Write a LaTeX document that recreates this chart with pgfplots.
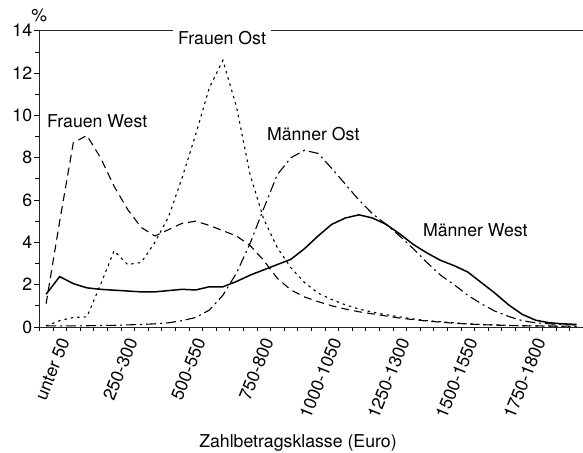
\documentclass[border=0pt]{standalone}
\usepackage{fontspec}
\setmainfont{TeX Gyre Heros}
\usepackage{pgfplots}
\pgfplotsset{compat=1.18}

\begin{document}
\fontsize{17.7bp}{21bp}\selectfont
\begin{tikzpicture}
\begin{axis}[
  scale only axis, width=544bp, height=296.3bp,
  xmin=-0.5, xmax=39.5, ymin=0, ymax=14,
  axis x line*=box, axis y line*=left,
  axis line style={line width=0.9bp, black!85},
  tick pos=left, tick align=outside,
  xtick={0,5,...,35},
  xticklabels={unter 50,250-300,500-550,750-800,1000-1050,1250-1300,1500-1550,1750-1800},
  major x tick style={draw=none},
  minor xtick={-0.5,0.5,...,39.5},
  ytick={0,2,...,14},
  minor ytick={1,3,...,13},
  major tick length=5bp, minor tick length=4bp,
  tick style={line width=0.7bp, black},
  xticklabel style={rotate=68, anchor=north east, inner sep=0pt, xshift=0.5bp, yshift=-13bp},
  yticklabel style={inner sep=2bp},
  /pgf/number format/assume math mode=true,
  clip=false,
]
\addplot[black, line width=1.5bp] coordinates {
(0,1.55)(1,2.38)(2,2.05)(3,1.85)(4,1.78)(5,1.74)(6,1.70)(7,1.66)(8,1.66)(9,1.72)
(10,1.78)(11,1.75)(12,1.90)(13,1.90)(14,2.15)(15,2.45)(16,2.70)(17,2.95)(18,3.20)(19,3.70)
(20,4.30)(21,4.85)(22,5.15)(23,5.30)(24,5.15)(25,4.85)(26,4.40)(27,3.90)(28,3.50)(29,3.15)
(30,2.90)(31,2.60)(32,2.10)(33,1.60)(34,1.05)(35,0.60)(36,0.32)(37,0.20)(38,0.15)(39,0.12)};
\addplot[black, line width=1.1bp, dash pattern=on 8bp off 5bp] coordinates {
(0,1.1)(1,5.0)(2,8.7)(3,9.05)(4,8.0)(5,6.65)(6,5.55)(7,4.7)(8,4.3)(9,4.6)
(10,4.9)(11,5.0)(12,4.8)(13,4.55)(14,4.3)(15,3.85)(16,3.15)(17,2.3)(18,1.75)(19,1.42)
(20,1.2)(21,1.0)(22,0.85)(23,0.72)(24,0.62)(25,0.52)(26,0.42)(27,0.35)(28,0.28)(29,0.23)
(30,0.18)(31,0.14)(32,0.11)(33,0.09)(34,0.07)(35,0.06)(36,0.05)(37,0.05)(38,0.04)(39,0.04)};
\addplot[black, line width=1.1bp, dash pattern=on 2.5bp off 4bp] coordinates {
(0,0.05)(1,0.3)(2,0.45)(3,0.48)(4,2.0)(5,3.6)(6,2.95)(7,3.05)(8,4.0)(9,5.2)
(10,7.05)(11,9.1)(12,11.3)(13,12.6)(14,10.4)(15,7.2)(16,5.1)(17,3.75)(18,2.8)(19,2.1)
(20,1.6)(21,1.3)(22,1.05)(23,0.85)(24,0.7)(25,0.58)(26,0.48)(27,0.38)(28,0.3)(29,0.25)
(30,0.2)(31,0.15)(32,0.12)(33,0.1)(34,0.08)(35,0.06)(36,0.05)(37,0.04)(38,0.03)(39,0.03)};
\addplot[black, line width=1.1bp, dash pattern=on 10bp off 4bp on 2bp off 4bp] coordinates {
(0,0.05)(1,0.05)(2,0.05)(3,0.06)(4,0.07)(5,0.08)(6,0.1)(7,0.12)(8,0.15)(9,0.2)
(10,0.3)(11,0.45)(12,0.8)(13,1.5)(14,2.55)(15,3.95)(16,5.6)(17,7.2)(18,8.0)(19,8.35)
(20,8.2)(21,7.5)(22,6.75)(23,6.0)(24,5.35)(25,4.85)(26,4.3)(27,3.7)(28,3.05)(29,2.45)
(30,2.0)(31,1.5)(32,1.1)(33,0.75)(34,0.5)(35,0.3)(36,0.2)(37,0.15)(38,0.12)(39,0.1)};
\node[anchor=base west, inner sep=0pt] at (axis cs:0.066,9.41) {Frauen West};
\node[anchor=base west, inner sep=0pt] at (axis cs:16.23,8.79) {Männer Ost};
\node[anchor=base west, inner sep=0pt] at (axis cs:27.7,4.27) {Männer West};
\coordinate (FO) at (axis cs:9.33,13.33);
\coordinate (PCT) at (rel axis cs:0,1);
\coordinate (XL) at (rel axis cs:0.4755,0);
\coordinate (BL) at (rel axis cs:0,0);
\coordinate (TR) at (rel axis cs:1,1);
\end{axis}
\node[anchor=base west, fill=white, inner xsep=5bp, inner ysep=3bp] at (FO) {Frauen Ost};
\node[anchor=base, inner sep=0pt, yshift=8.7bp] at (PCT) {\%};
\node[anchor=base, inner sep=0pt, yshift=-120.5bp] at (XL) {Zahlbetragsklasse (Euro)};
\pgfresetboundingbox
\path[use as bounding box] ([xshift=-39.3bp,yshift=-126bp]BL) rectangle ([xshift=-0.3bp,yshift=30.7bp]TR);
\end{tikzpicture}
\end{document}
